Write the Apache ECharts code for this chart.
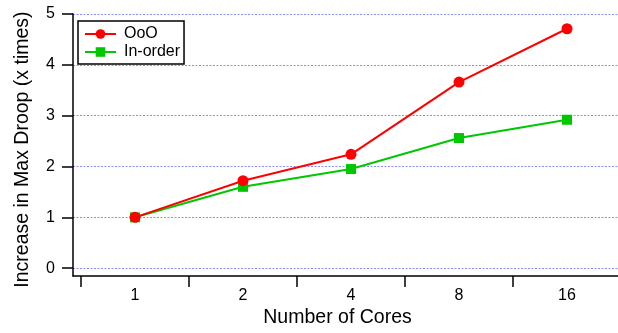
<!DOCTYPE html>
<html><head><meta charset="utf-8">
<script src="https://cdn.jsdelivr.net/npm/echarts@6/dist/echarts.min.js"></script>
<style>html,body{margin:0;padding:0;background:#fff}#c{width:618px;height:333px}</style>
</head><body><div id="c"></div>
<script>
const categories = ['1', '2', '4', '8', '16'];
const ooo = [1.0, 1.72, 2.24, 3.66, 4.71];
const inorder = [1.0, 1.60, 1.95, 2.56, 2.92];
const yTicks = [0, 1, 2, 3, 4, 5];

const pos = categories.map((c, i) => i + 1);
const font = 'Liberation Sans, Arial, sans-serif';
const chart = echarts.init(document.getElementById('c'), null, {renderer: 'canvas'});
chart.setOption({
  animation: false,
  backgroundColor: '#fff',
  grid: {left: 73, right: 0, top: 14, bottom: 54},
  legend: {
    left: 78, top: 21, orient: 'vertical',
    borderColor: '#000', borderWidth: 1.5, padding: [5, 4, 4, 6],
    itemWidth: 31, itemHeight: 12, itemGap: 2,
    textStyle: {fontFamily: font, fontSize: 16, color: '#000', padding: [0, 0, 0, 3]},
    data: ['OoO', 'In-order']
  },
  xAxis: {
    type: 'value', min: 0.426, max: 5.472,
    name: 'Number of Cores', nameLocation: 'middle', nameGap: 31,
    nameTextStyle: {fontFamily: font, fontSize: 19.5, color: '#000', padding: [0, 16, 0, 0]},
    axisLine: {show: true, onZero: false, lineStyle: {color: '#000', width: 1.5}},
    axisTick: {show: true, length: 11, customValues: [0.5, 1.5, 2.5, 3.5, 4.5], lineStyle: {color: '#000', width: 1.5}},
    axisLabel: {customValues: pos, formatter: v => categories[Math.round(v) - 1], fontFamily: font, fontSize: 16, color: '#000', margin: 11},
    splitLine: {show: false}
  },
  yAxis: {
    type: 'value', min: -0.156, max: 5,
    name: 'Increase in Max Droop (x times)', nameLocation: 'middle', nameGap: 40,
    nameTextStyle: {fontFamily: font, fontSize: 19.5, color: '#000', padding: [0, 9, 0, 0]},
    axisLine: {show: true, lineStyle: {color: '#000', width: 1.5}},
    axisTick: {show: true, length: 11, customValues: yTicks, lineStyle: {color: '#000', width: 1.5}},
    axisLabel: {customValues: yTicks, fontFamily: font, fontSize: 16, color: '#000', margin: 18},
    splitLine: {show: true, lineStyle: {color: '#8c8cff', type: [2, 1.5], width: 1}}
  },
  series: [
    {name: 'OoO', type: 'line', data: pos.map((x, i) => [x, ooo[i]]),
     symbol: 'circle', symbolSize: 11, color: '#ff0000', lineStyle: {width: 2}, z: 3},
    {name: 'In-order', type: 'line', data: pos.map((x, i) => [x, inorder[i]]),
     symbol: 'rect', symbolSize: 10, color: '#00c800', lineStyle: {width: 2}, z: 2}
  ]
});
</script></body></html>
